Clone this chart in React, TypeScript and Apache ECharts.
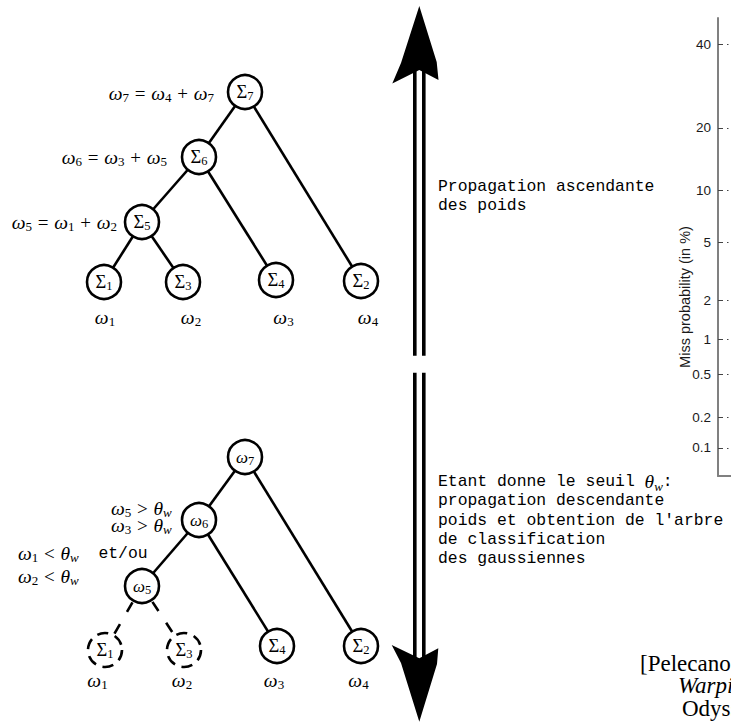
import { useEffect, useRef } from "react";
import * as echarts from "echarts";

// ---- tree data (upper: weight propagation, lower: thresholded tree) ----
const upperNodeX = [245, 199, 142, 104, 183, 276, 361];
const upperNodeY = [92, 157, 222, 282, 282, 280, 281];
const upperNodeText = ["{S|Σ}{s|7}", "{S|Σ}{s|6}", "{S|Σ}{s|5}", "{S|Σ}{s|1}", "{S|Σ}{s|3}", "{S|Σ}{s|4}", "{S|Σ}{s|2}"];

const lowerNodeX = [245, 199, 142, 105, 184, 277, 361];
const lowerNodeY = [457, 520, 586, 650, 650, 646, 646];
const lowerNodeText = ["{w|ω}{s|7}", "{w|ω}{s|6}", "{w|ω}{s|5}", "{S|Σ}{s|1}", "{S|Σ}{s|3}", "{S|Σ}{s|4}", "{S|Σ}{s|2}"];
const lowerNodeDashed = [false, false, false, true, true, false, false];

const treeLinks: [number, number][] = [[0, 1], [0, 6], [1, 2], [1, 5], [2, 3], [2, 4]];
const lowerLinkDashed = [false, false, false, false, true, true];

// ---- DET axis ticks (miss probability in %) ----
const missTicks = [40, 20, 10, 5, 2, 1, 0.5, 0.2, 0.1];
const missTickLabels = ["40", "20", "10", "5", "2", "1", "0.5", "0.2", "0.1"];
const missRange = [0.0505, 47.2]; // percent, bottom / top of visible axis

function probit(p: number): number {
  const a = [-3.969683028665376e1, 2.209460984245205e2, -2.759285104469687e2, 1.38357751867269e2, -3.066479806614716e1, 2.506628277459239];
  const b = [-5.447609879822406e1, 1.615858368580409e2, -1.556989798598866e2, 6.680131188771972e1, -1.328068155288572e1];
  const c = [-7.784894002430293e-3, -3.223964580411365e-1, -2.400758277161838, -2.549732539343734, 4.374664141464968, 2.938163982698783];
  const d = [7.784695709041462e-3, 3.224671290700398e-1, 2.445134137142996, 3.754408661907416];
  const pl = 0.02425;
  if (p < pl) {
    const q = Math.sqrt(-2 * Math.log(p));
    return (((((c[0] * q + c[1]) * q + c[2]) * q + c[3]) * q + c[4]) * q + c[5]) / ((((d[0] * q + d[1]) * q + d[2]) * q + d[3]) * q + 1);
  }
  if (p <= 1 - pl) {
    const q = p - 0.5;
    const r = q * q;
    return ((((((a[0] * r + a[1]) * r + a[2]) * r + a[3]) * r + a[4]) * r + a[5]) * q) / (((((b[0] * r + b[1]) * r + b[2]) * r + b[3]) * r + b[4]) * r + 1);
  }
  const q = Math.sqrt(-2 * Math.log(1 - p));
  return -(((((c[0] * q + c[1]) * q + c[2]) * q + c[3]) * q + c[4]) * q + c[5]) / ((((d[0] * q + d[1]) * q + d[2]) * q + d[3]) * q + 1);
}

// ---- texts ----
const upperAnnotations = [
  "{i|ω}{s|7}{o| = }{i|ω}{s|4}{o| + }{i|ω}{s|7}",
  "{i|ω}{s|6}{o| = }{i|ω}{s|3}{o| + }{i|ω}{s|5}",
  "{i|ω}{s|5}{o| = }{i|ω}{s|1}{o| + }{i|ω}{s|2}",
];
const upperLeafLabels = ["{i|ω}{s|1}", "{i|ω}{s|2}", "{i|ω}{s|3}", "{i|ω}{s|4}"];
const lowerLeafLabels = ["{i|ω}{s|1}", "{i|ω}{s|2}", "{i|ω}{s|3}", "{i|ω}{s|4}"];
const lowerAnnotations = [
  "{i|ω}{s|5}{o| > }{i|θ}{si|w}",
  "{i|ω}{s|3}{o| > }{i|θ}{si|w}",
  "{i|ω}{s|1}{o| < }{i|θ}{si|w}{t|  et/ou}",
  "{i|ω}{s|2}{o| < }{i|θ}{si|w}",
];
const upTextLines = ["Propagation ascendante", "des poids"];
const downTextLines = [
  "{t|Etant donne le seuil }{i|θ}{si|w}{t|:}",
  "{t|propagation descendante}",
  "{t|poids et obtention de l'arbre}",
  "{t|de classification}",
  "{t|des gaussiennes}",
];
const citationLines = ["[Pelecanos & Sridharan", "Warping", "Odyssey 2001"];

const SERIF = "Liberation Serif";
const MONO = "Liberation Mono";

function makeMathRich(lh: number, drop: number): any {
  const sub = { fontFamily: SERIF, fontSize: 13, verticalAlign: "bottom", lineHeight: 13, color: "#000", padding: [0, 0, -drop, 0] };
  return {
    i: { fontFamily: SERIF, fontStyle: "italic", fontSize: 19.5, lineHeight: lh, color: "#000" },
    s: sub,
    si: { ...sub, fontStyle: "italic" },
    o: { fontFamily: SERIF, fontSize: 19, lineHeight: lh, color: "#000", padding: [0, 1, 0, 1] },
    t: { fontFamily: MONO, fontSize: 16.4, lineHeight: lh, color: "#000" },
  };
}
const mathRich = makeMathRich(21, 0);
const compactRich = makeMathRich(16, 3);

const nodeRich: any = {
  S: { fontFamily: SERIF, fontSize: 18.5, lineHeight: 21, color: "#000" },
  w: { fontFamily: SERIF, fontStyle: "italic", fontSize: 17, lineHeight: 21, color: "#000" },
  s: { fontFamily: SERIF, fontSize: 12.5, lineHeight: 12.5, verticalAlign: "bottom", color: "#000" },
};

function mathText(x: number, y: number, text: string, align: string, compact = false) {
  return {
    type: "text",
    x,
    y,
    z: 10,
    style: { text, rich: compact ? compactRich : mathRich, align, verticalAlign: "middle", fill: "#000" },
  };
}

export default function App() {
  const ref = useRef<HTMLDivElement>(null);

  useEffect(() => {
    if (!ref.current) return;
    const chart = echarts.init(ref.current, null, { renderer: "svg" });

    const nodes: any[] = [];
    upperNodeX.forEach((x, i) => {
      nodes.push({ name: "u" + i, value: [x, upperNodeY[i]], labelText: upperNodeText[i] });
    });
    lowerNodeX.forEach((x, i) => {
      nodes.push({
        name: "l" + i,
        value: [x, lowerNodeY[i]],
        labelText: lowerNodeText[i],
        itemStyle: lowerNodeDashed[i] ? { borderType: [11, 7] } : undefined,
      });
    });
    const links: any[] = [];
    treeLinks.forEach(([s, t]) => links.push({ source: s, target: t }));
    treeLinks.forEach(([s, t], k) =>
      links.push({
        source: s + 7,
        target: t + 7,
        lineStyle: lowerLinkDashed[k] ? { type: [11, 14], dashOffset: 6 } : undefined,
      })
    );

    const zTicks = missTicks.map((v) => probit(v / 100));

    const graphic: any[] = [];
    // arrowheads
    graphic.push({
      type: "polygon",
      shape: { points: [[419.3, 6], [436.7, 62], [438.5, 80], [419.3, 70], [392.3, 83.5], [401, 63]] },
      style: { fill: "#000" },
    });
    graphic.push({
      type: "polygon",
      shape: { points: [[419.3, 721.7], [437, 664], [438.3, 648.3], [419.3, 658.3], [391.7, 645], [401, 663]] },
      style: { fill: "#000" },
    });
    // double shafts
    [[413, 70, 355.7], [422, 70, 355.7], [413, 372.7, 658.3], [422, 372.7, 658.3]].forEach(([x, y0, y1]) => {
      graphic.push({ type: "rect", shape: { x, y: y0, width: 3.6, height: y1 - y0 }, style: { fill: "#000" } });
    });
    // annotations upper tree
    graphic.push(mathText(214, 93, upperAnnotations[0], "right"));
    graphic.push(mathText(167, 157, upperAnnotations[1], "right"));
    graphic.push(mathText(117, 222, upperAnnotations[2], "right"));
    [105, 191, 283.5, 368].forEach((x, i) => graphic.push(mathText(x, 317, upperLeafLabels[i], "center")));
    // annotations lower tree
    graphic.push(mathText(111, 508, lowerAnnotations[0], "left", true));
    graphic.push(mathText(111, 525, lowerAnnotations[1], "left", true));
    graphic.push(mathText(18, 553, lowerAnnotations[2], "left", true));
    graphic.push(mathText(18, 576, lowerAnnotations[3], "left", true));
    [97.5, 182, 274, 358.5].forEach((x, i) => graphic.push(mathText(x, 680, lowerLeafLabels[i], "center")));
    // right-hand typewriter texts
    upTextLines.forEach((t, i) =>
      graphic.push({
        type: "text",
        x: 438,
        y: 186 + i * 19.5,
        style: { text: t, fontFamily: MONO, fontSize: 16.4, fill: "#000", align: "left", verticalAlign: "middle" },
      })
    );
    downTextLines.forEach((t, i) => graphic.push(mathText(438, 481.5 + i * 19.3, t, "left", true)));
    // DET axis name
    graphic.push({
      type: "text",
      x: 685,
      y: 297,
      rotation: Math.PI / 2,
      style: {
        text: "Miss probability (in %)",
        fontFamily: "Liberation Sans",
        fontSize: 14.5,
        fill: "#1a1a1a",
        align: "center",
        verticalAlign: "middle",
      },
    });
    // citation (cut by the right edge, as in the reference)
    citationLines.forEach((t, i) =>
      graphic.push({
        type: "text",
        x: [640, 678, 682][i],
        y: 663 + i * 22.5,
        style: {
          text: t,
          fontFamily: SERIF,
          fontSize: 23,
          fontStyle: i === 1 ? "italic" : "normal",
          fill: "#000",
          align: "left",
          verticalAlign: "middle",
        },
      })
    );

    chart.setOption({
      animation: false,
      backgroundColor: "#fff",
      grid: [
        { left: 0, top: 0, right: 0, bottom: 0 },
        { left: 718, top: 18, right: -400, bottom: 246 },
      ],
      xAxis: [
        { type: "value", gridIndex: 0, min: 0, max: 731, show: false },
        {
          type: "value",
          gridIndex: 1,
          min: 0,
          max: 1,
          axisLine: { show: true, onZero: false, lineStyle: { color: "#808080", width: 2 } },
          axisTick: { show: false },
          axisLabel: { show: false },
          splitLine: { show: false },
        },
      ],
      yAxis: [
        { type: "value", gridIndex: 0, min: 0, max: 722, inverse: true, show: false },
        {
          type: "value",
          gridIndex: 1,
          min: probit(missRange[0] / 100),
          max: probit(missRange[1] / 100),
          axisLine: { show: true, onZero: false, lineStyle: { color: "#808080", width: 2 } },
          axisTick: {
            show: true,
            inside: true,
            length: 13,
            customValues: zTicks,
            lineStyle: { color: "#444", width: 1, type: [5, 4, 1.5, 3] },
          },
          axisLabel: {
            show: true,
            customValues: zTicks,
            margin: 7,
            color: "#1a1a1a",
            fontFamily: "Liberation Sans",
            fontSize: 13.5,
            formatter: (v: number) => {
              const k = zTicks.findIndex((z) => Math.abs(z - v) < 1e-6);
              return k >= 0 ? missTickLabels[k] : "";
            },
          },
          splitLine: { show: false },
        },
      ],
      graphic,
      series: [
        {
          type: "graph",
          layout: "none",
          coordinateSystem: "cartesian2d",
          xAxisIndex: 0,
          yAxisIndex: 0,
          symbol: "circle",
          symbolSize: 34,
          z: 3,
          itemStyle: { color: "#fff", borderColor: "#000", borderWidth: 2.6 },
          lineStyle: { color: "#000", width: 2.6, opacity: 1, curveness: 0 },
          label: {
            show: true,
            position: "inside",
            color: "#000",
            formatter: (p: any) => p.data.labelText,
            rich: nodeRich,
          },
          emphasis: { disabled: true },
          data: nodes,
          links,
        },
        { type: "line", xAxisIndex: 1, yAxisIndex: 1, data: [] },
      ],
    });

    return () => chart.dispose();
  }, []);

  return (
    <div
      ref={ref}
      style={{ position: "absolute", left: 0, top: 0, width: 731, height: 722, background: "#fff" }}
    />
  );
}
